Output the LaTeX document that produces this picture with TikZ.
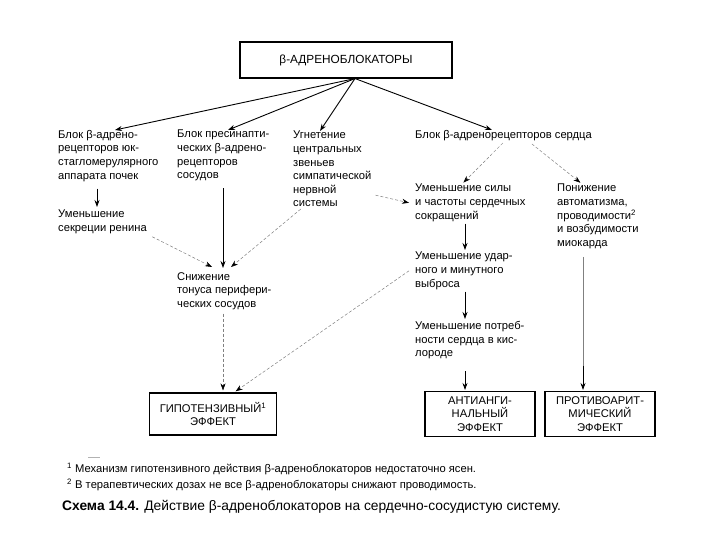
\documentclass[tikz,border=0pt]{standalone}
\usepackage{fontspec}
\setmainfont{Liberation Sans}
\usetikzlibrary{arrows.meta,positioning}

\tikzset{
  lbl/.style={anchor=north west, align=left, inner sep=0pt, font=\fontsize{11.2}{13.6}\selectfont},
  effbox/.style={draw, line width=1.1pt, align=center, inner sep=0pt, font=\fontsize{11.2}{13.4}\selectfont},
  strongarr/.style={-{Stealth[length=7pt,width=5pt]}, line width=0.8pt},
  weakarr/.style={-{Stealth[length=7pt,width=5pt,black]}, gray, line width=0.5pt, dash pattern=on 3pt off 2pt},
}

\begin{document}
\begin{tikzpicture}[x=1pt,y=-1pt]
\fill[white] (0,0) rectangle (720,540);
\useasboundingbox (0,0) rectangle (720,540);

\node[effbox, minimum width=212pt, minimum height=36pt, font=\fontsize{11.8}{13}\selectfont] (blockers) at (346,60) {β-АДРЕНОБЛОКАТОРЫ};
\coordinate (hub) at ([xshift=9pt]blockers.south);

\node[lbl] (kidney) at (58,130) {Блок β-адрено-\\рецепторов юк-\\стагломерулярного\\аппарата почек};
\node[lbl] (presyn) at (177,130) {Блок пресинапти-\\ческих β-адрено-\\рецепторов\\сосудов};
\node[lbl] (central) at (293,131) {Угнетение\\центральных\\звеньев\\симпатической\\нервной\\системы};
\node[lbl] (heart) at (415,130) {Блок β-адренорецепторов сердца};
\node[lbl] (renin) at (58,210) {Уменьшение\\секреции ренина};
\node[lbl] (tonus) at (177,272) {Снижение\\тонуса перифери-\\ческих сосудов};
\node[lbl] (force) at (415,184) {Уменьшение силы\\и частоты сердечных\\сокращений};
\node[lbl] (autom) at (557,184) {Понижение\\автоматизма,\\проводимости\textsuperscript{2}\\и возбудимости\\миокарда};
\node[lbl] (output) at (415,252) {Уменьшение удар-\\ного и минутного\\выброса};
\node[lbl] (oxygen) at (415,321) {Уменьшение потреб-\\ности сердца в кис-\\лороде};

\node[effbox, minimum width=127pt, minimum height=42pt] (hypo) at (213,414) {ГИПОТЕНЗИВНЫЙ\textsuperscript{1}\\ЭФФЕКТ};
\node[effbox, minimum width=110pt, minimum height=45pt] (angina) at (480,414) {АНТИАНГИ-\\НАЛЬНЫЙ\\ЭФФЕКТ};
\node[effbox, minimum width=110pt, minimum height=45pt] (arrhyth) at (600,414) {ПРОТИВОАРИТ-\\МИЧЕСКИЙ\\ЭФФЕКТ};

\draw[strongarr, line width=0.9pt] (hub) -- ([xshift=57pt]kidney.north west);
\draw[strongarr, line width=0.9pt] (hub) -- ([xshift=51pt]presyn.north west);
\draw[strongarr, line width=0.9pt] (hub) -- ([xshift=27pt]central.north west);
\draw[strongarr, line width=0.9pt] (hub) -- ([xshift=77pt]heart.north west);

\draw[strongarr, shorten <=7pt, shorten >=3pt] ([xshift=39pt]kidney.south west) -- ([xshift=39pt]renin.north west);
\draw[strongarr, shorten <=7pt, shorten >=4pt] ([xshift=46pt]presyn.south west) -- ([xshift=46pt]tonus.north west);
\draw[weakarr, shorten <=6pt] (renin.south east) -- ([xshift=35pt,yshift=5pt]tonus.north west);
\draw[weakarr, shorten <=3pt] ([xshift=10pt]central.south west) -- ([xshift=54pt,yshift=5pt]tonus.north west);
\draw[weakarr, shorten <=4pt, shorten >=2pt] ([xshift=46pt]tonus.south west) -- ([xshift=10pt]hypo.north);
\draw[weakarr, shorten >=2pt] ([xshift=-6pt]output.west) -- ([xshift=21pt]hypo.north);

\draw[weakarr] ([xshift=4pt,yshift=12pt]central.south east) -- ([xshift=-6pt]force.west);
\draw[weakarr, shorten <=3pt, shorten >=2pt] ([xshift=90pt]heart.south west) -- ([xshift=47pt]force.north west);
\draw[weakarr, shorten <=5pt, shorten >=2pt] ([xshift=113pt]heart.south west) -- ([xshift=25pt]autom.north west);

\draw[strongarr, shorten <=2pt, shorten >=2pt] ([xshift=50pt]force.south west) -- ([xshift=50pt]output.north west);
\draw[strongarr, shorten <=2pt, shorten >=2pt] ([xshift=50pt]output.south west) -- ([xshift=50pt]oxygen.north west);
\draw[strongarr, shorten <=12pt, shorten >=1pt] ([xshift=50pt]oxygen.south west) -- ([xshift=-15pt]angina.north);

\coordinate (autodown) at ([xshift=26pt,yshift=-117pt]autom.south west);
\draw[gray, line width=0.5pt, shorten <=8pt] ([xshift=26pt]autom.south west) -- (autodown);
\draw[strongarr, shorten >=1pt] (autodown) -- ([xshift=-17pt]arrhyth.north);

\draw[gray!60, line width=0.6pt] (88,457) -- (100,457);
\node[anchor=west, inner sep=0pt, font=\fontsize{11.2}{12}\selectfont] (note1) at (67,469) {\textsuperscript{1} Механизм гипотензивного действия β-адреноблокаторов недостаточно ясен.};
\node[anchor=west, inner sep=0pt, font=\fontsize{11.2}{12}\selectfont] (note2) at (67,485) {\textsuperscript{2} В терапевтических дозах не все β-адреноблокаторы снижают проводимость.};
\node[anchor=west, inner sep=0pt, font=\fontsize{13.8}{15}\selectfont] (caption) at (62,507) {\textbf{Схема 14.4.} Действие β-адреноблокаторов на сердечно-сосудистую систему.};
\end{tikzpicture}
\end{document}
